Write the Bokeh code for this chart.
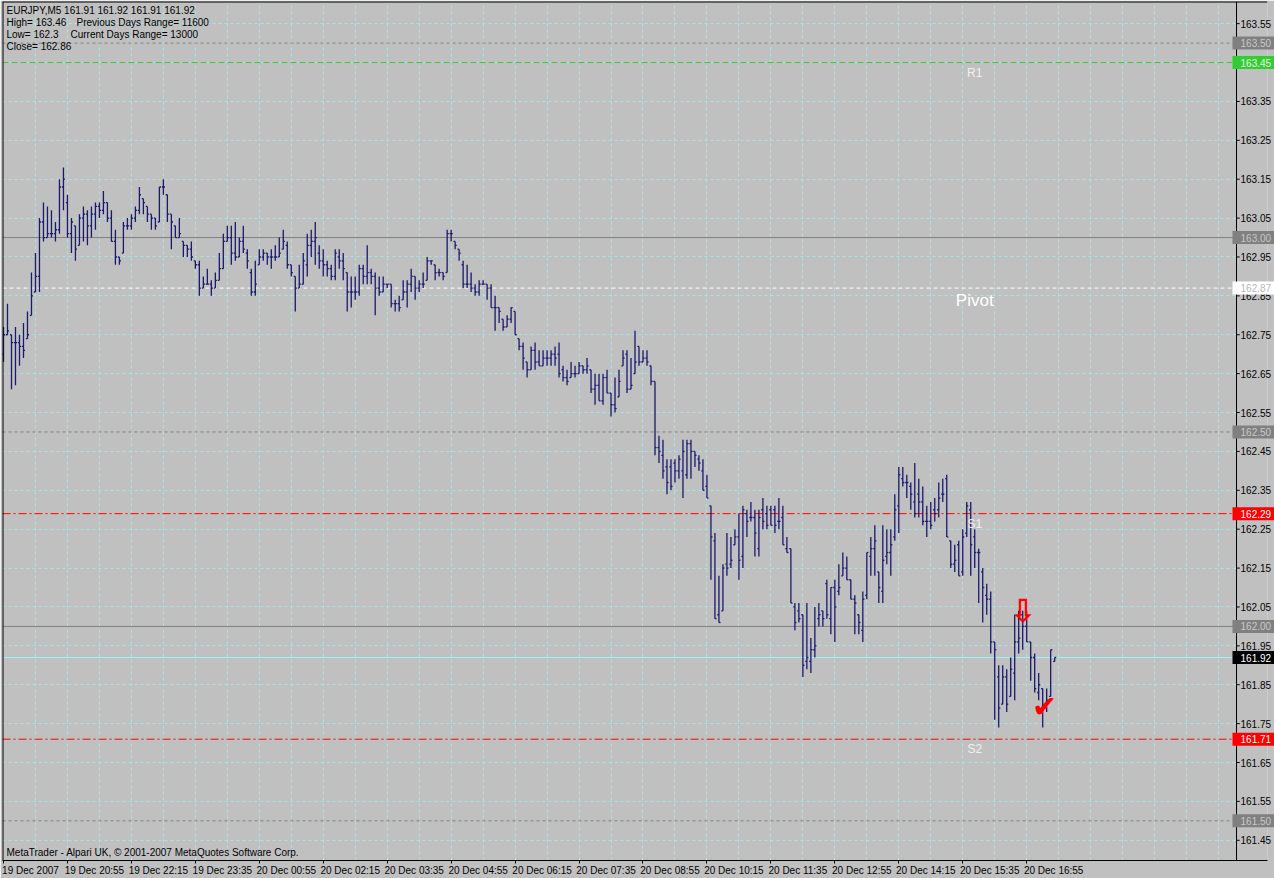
from bokeh.plotting import figure
from bokeh.models import (Range1d, FixedTicker, PrintfTickFormatter, Span, Label,
                          ColumnDataSource, BoxAnnotation)
from bokeh.core.properties import value
from bokeh.embed import file_html
from bokeh.resources import INLINE

# ---------------- data (EURJPY, M5) ----------------
opens = [
    162.70, 162.75, 162.75, 162.73, 162.73, 162.72, 162.74, 162.80, 162.86, 162.90,
    163.04, 163.00, 163.01, 163.01, 163.02, 163.13, 163.09, 163.01, 163.03, 162.98,
    163.05, 163.06, 163.03, 163.06, 163.08, 163.07, 163.09, 163.05, 162.99, 162.95,
    162.96, 163.03, 163.03, 163.05, 163.07, 163.10, 163.08, 163.06, 163.05, 163.04,
    163.13, 163.11, 163.06, 163.03, 163.00, 162.99, 162.98, 162.97, 162.94, 162.93,
    162.87, 162.88, 162.88, 162.87, 162.89, 162.92, 162.99, 163.00, 162.96, 162.95,
    162.99, 162.96, 162.91, 162.86, 162.93, 162.95, 162.96, 162.95, 162.95, 162.95,
    162.97, 162.98, 162.93, 162.90, 162.87, 162.88, 162.93, 162.98, 162.99, 162.96,
    162.94, 162.93, 162.92, 162.90, 162.95, 162.94, 162.91, 162.86, 162.86, 162.86,
    162.92, 162.90, 162.91, 162.90, 162.87, 162.86, 162.88, 162.88, 162.83, 162.83,
    162.84, 162.86, 162.88, 162.90, 162.87, 162.88, 162.89, 162.94, 162.93, 162.91,
    162.91, 162.91, 163.01, 162.99, 162.97, 162.93, 162.88, 162.88, 162.87, 162.86,
    162.88, 162.88, 162.87, 162.82, 162.82, 162.79, 162.77, 162.79, 162.81, 162.74,
    162.72, 162.68, 162.66, 162.71, 162.68, 162.67, 162.69, 162.69, 162.70, 162.70,
    162.66, 162.64, 162.64, 162.65, 162.65, 162.67, 162.66, 162.66, 162.61, 162.62,
    162.58, 162.64, 162.60, 162.57, 162.59, 162.67, 162.70, 162.61, 162.65, 162.72,
    162.68, 162.69, 162.67, 162.63, 162.46, 162.44, 162.41, 162.41, 162.42, 162.40,
    162.40, 162.39, 162.47, 162.45, 162.43, 162.40, 162.36, 162.31, 162.22, 162.03,
    162.04, 162.16, 162.16, 162.21, 162.23, 162.18, 162.29, 162.28, 162.28, 162.20,
    162.30, 162.29, 162.30, 162.30, 162.27, 162.28, 162.20, 162.20, 162.05, 162.04,
    162.03, 161.91, 161.91, 161.94, 162.02, 162.04, 162.11, 162.02, 162.10, 162.09,
    162.13, 162.15, 162.12, 162.07, 162.03, 161.99, 162.08, 162.18, 162.20, 162.14,
    162.09, 162.18, 162.19, 162.23, 162.31, 162.38, 162.37, 162.36, 162.32, 162.34,
    162.32, 162.27, 162.27, 162.30, 162.30, 162.34, 162.38, 162.22, 162.16, 162.21,
    162.14, 162.24, 162.30, 162.23, 162.19, 162.14, 162.08, 162.07, 161.96, 161.87,
    161.80, 161.87, 161.82, 161.88, 161.96, 162.03, 162.00, 161.96, 161.92, 161.83,
    161.84, 161.79, 161.82, 161.91,
]
highs = [
    162.77, 162.83, 162.75, 162.77, 162.75, 162.78, 162.81, 162.91, 162.96, 163.05,
    163.09, 163.08, 163.07, 163.04, 163.15, 163.18, 163.11, 163.05, 163.03, 163.06,
    163.08, 163.07, 163.08, 163.09, 163.09, 163.12, 163.09, 163.07, 163.02, 162.95,
    163.04, 163.05, 163.06, 163.08, 163.13, 163.10, 163.08, 163.06, 163.05, 163.13,
    163.15, 163.11, 163.06, 163.03, 163.05, 162.99, 162.98, 162.99, 162.94, 162.94,
    162.90, 162.92, 162.89, 162.91, 162.96, 163.01, 163.03, 163.03, 163.04, 163.00,
    163.03, 162.97, 162.92, 162.94, 162.97, 162.97, 162.96, 162.97, 162.98, 163.00,
    163.02, 162.99, 162.93, 162.90, 162.93, 162.96, 163.01, 163.02, 163.04, 162.98,
    162.97, 162.94, 162.93, 162.97, 162.97, 162.96, 162.91, 162.90, 162.90, 162.93,
    162.93, 162.98, 162.92, 162.91, 162.90, 162.90, 162.88, 162.88, 162.84, 162.85,
    162.89, 162.89, 162.92, 162.90, 162.89, 162.91, 162.95, 162.94, 162.93, 162.92,
    162.91, 163.02, 163.02, 162.99, 162.97, 162.94, 162.93, 162.91, 162.88, 162.89,
    162.89, 162.88, 162.88, 162.85, 162.82, 162.79, 162.80, 162.82, 162.81, 162.74,
    162.73, 162.68, 162.72, 162.73, 162.71, 162.71, 162.71, 162.71, 162.72, 162.73,
    162.67, 162.66, 162.68, 162.67, 162.68, 162.67, 162.69, 162.66, 162.65, 162.65,
    162.65, 162.66, 162.60, 162.64, 162.66, 162.71, 162.71, 162.69, 162.76, 162.72,
    162.71, 162.71, 162.67, 162.63, 162.49, 162.48, 162.43, 162.43, 162.43, 162.44,
    162.48, 162.48, 162.48, 162.45, 162.44, 162.43, 162.39, 162.31, 162.24, 162.13,
    162.16, 162.24, 162.23, 162.25, 162.29, 162.31, 162.30, 162.32, 162.30, 162.30,
    162.33, 162.31, 162.31, 162.31, 162.33, 162.31, 162.23, 162.20, 162.06, 162.06,
    162.03, 162.06, 161.97, 162.05, 162.06, 162.04, 162.12, 162.10, 162.12, 162.16,
    162.19, 162.18, 162.12, 162.08, 162.03, 162.09, 162.19, 162.23, 162.26, 162.14,
    162.26, 162.25, 162.25, 162.34, 162.41, 162.41, 162.39, 162.37, 162.42, 162.38,
    162.36, 162.31, 162.32, 162.33, 162.37, 162.38, 162.39, 162.22, 162.21, 162.22,
    162.25, 162.32, 162.32, 162.25, 162.20, 162.15, 162.11, 162.09, 161.96, 161.90,
    161.90, 161.89, 161.92, 162.03, 162.04, 162.04, 162.04, 161.96, 161.93, 161.88,
    161.84, 161.84, 161.94, 161.92,
]
lows = [
    162.68, 162.75, 162.61, 162.62, 162.67, 162.69, 162.74, 162.80, 162.86, 162.86,
    162.99, 163.00, 163.00, 162.99, 163.01, 163.07, 163.00, 162.96, 162.94, 162.98,
    162.99, 162.98, 163.00, 163.02, 163.05, 163.06, 163.04, 162.99, 162.93, 162.93,
    162.96, 163.02, 163.02, 163.04, 163.06, 163.06, 163.04, 163.02, 163.02, 163.04,
    163.11, 163.04, 162.97, 163.00, 163.00, 162.95, 162.95, 162.94, 162.92, 162.85,
    162.87, 162.88, 162.85, 162.87, 162.89, 162.92, 162.99, 162.93, 162.94, 162.95,
    162.96, 162.92, 162.85, 162.85, 162.93, 162.94, 162.93, 162.92, 162.94, 162.95,
    162.97, 162.92, 162.90, 162.81, 162.87, 162.88, 162.90, 162.95, 162.93, 162.92,
    162.90, 162.90, 162.89, 162.89, 162.92, 162.89, 162.81, 162.82, 162.84, 162.85,
    162.88, 162.88, 162.88, 162.80, 162.85, 162.86, 162.87, 162.82, 162.81, 162.81,
    162.84, 162.82, 162.86, 162.84, 162.86, 162.87, 162.89, 162.93, 162.89, 162.90,
    162.89, 162.91, 162.99, 162.97, 162.94, 162.87, 162.87, 162.86, 162.85, 162.85,
    162.88, 162.84, 162.82, 162.76, 162.78, 162.76, 162.77, 162.78, 162.75, 162.71,
    162.66, 162.64, 162.66, 162.66, 162.67, 162.67, 162.67, 162.67, 162.67, 162.64,
    162.63, 162.62, 162.64, 162.64, 162.65, 162.65, 162.65, 162.60, 162.57, 162.58,
    162.57, 162.60, 162.54, 162.55, 162.59, 162.67, 162.60, 162.61, 162.65, 162.67,
    162.68, 162.67, 162.62, 162.44, 162.42, 162.38, 162.34, 162.35, 162.37, 162.38,
    162.33, 162.38, 162.38, 162.41, 162.40, 162.35, 162.33, 162.12, 162.02, 162.01,
    162.04, 162.13, 162.15, 162.21, 162.12, 162.15, 162.23, 162.27, 162.18, 162.18,
    162.25, 162.25, 162.26, 162.24, 162.25, 162.21, 162.19, 162.06, 161.99, 162.01,
    161.87, 161.89, 161.88, 161.92, 162.00, 162.00, 162.02, 161.98, 161.96, 162.08,
    162.13, 162.12, 162.07, 161.98, 161.98, 161.96, 162.07, 162.13, 162.13, 162.06,
    162.06, 162.16, 162.13, 162.22, 162.24, 162.36, 162.33, 162.30, 162.28, 162.28,
    162.26, 162.23, 162.25, 162.27, 162.28, 162.32, 162.23, 162.15, 162.14, 162.13,
    162.13, 162.23, 162.13, 162.15, 162.06, 162.01, 162.03, 161.93, 161.76, 161.74,
    161.80, 161.78, 161.82, 161.81, 161.93, 161.94, 161.96, 161.86, 161.83, 161.81,
    161.74, 161.78, 161.82, 161.91,
]
closes = [
    162.75, 162.76, 162.73, 162.73, 162.72, 162.71, 162.75, 162.85, 162.90, 163.04,
    163.00, 163.01, 163.01, 163.02, 163.13, 163.15, 163.01, 163.04, 162.97, 163.05,
    163.06, 163.03, 163.06, 163.08, 163.07, 163.09, 163.05, 162.99, 162.95, 162.94,
    163.03, 163.03, 163.05, 163.07, 163.11, 163.09, 163.06, 163.05, 163.03, 163.13,
    163.13, 163.06, 163.04, 163.00, 163.01, 162.98, 162.97, 162.95, 162.93, 162.87,
    162.88, 162.88, 162.87, 162.89, 162.92, 162.99, 163.00, 162.96, 162.95, 162.99,
    162.97, 162.94, 162.86, 162.88, 162.95, 162.96, 162.95, 162.95, 162.95, 162.96,
    162.99, 162.93, 162.91, 162.87, 162.88, 162.94, 162.98, 162.99, 163.00, 162.94,
    162.93, 162.92, 162.90, 162.96, 162.94, 162.92, 162.86, 162.86, 162.86, 162.92,
    162.90, 162.91, 162.90, 162.87, 162.86, 162.88, 162.88, 162.83, 162.83, 162.82,
    162.86, 162.88, 162.90, 162.87, 162.88, 162.88, 162.94, 162.94, 162.91, 162.91,
    162.90, 163.01, 163.01, 162.98, 162.96, 162.88, 162.88, 162.87, 162.86, 162.88,
    162.88, 162.87, 162.82, 162.82, 162.81, 162.77, 162.79, 162.82, 162.75, 162.72,
    162.69, 162.66, 162.71, 162.68, 162.67, 162.69, 162.69, 162.70, 162.69, 162.65,
    162.64, 162.63, 162.65, 162.65, 162.67, 162.66, 162.67, 162.61, 162.62, 162.58,
    162.64, 162.60, 162.57, 162.56, 162.63, 162.69, 162.61, 162.62, 162.68, 162.68,
    162.69, 162.68, 162.63, 162.46, 162.45, 162.40, 162.37, 162.36, 162.40, 162.43,
    162.45, 162.47, 162.45, 162.44, 162.42, 162.35, 162.33, 162.23, 162.02, 162.01,
    162.15, 162.15, 162.17, 162.23, 162.17, 162.30, 162.27, 162.28, 162.24, 162.28,
    162.27, 162.26, 162.26, 162.26, 162.27, 162.21, 162.19, 162.06, 162.01, 162.02,
    161.90, 161.92, 161.94, 161.95, 162.03, 162.02, 162.03, 162.10, 162.05, 162.10,
    162.15, 162.12, 162.07, 162.06, 162.01, 162.07, 162.19, 162.20, 162.22, 162.10,
    162.17, 162.19, 162.21, 162.30, 162.39, 162.37, 162.37, 162.34, 162.29, 162.32,
    162.27, 162.27, 162.26, 162.29, 162.33, 162.34, 162.23, 162.16, 162.17, 162.13,
    162.23, 162.31, 162.21, 162.19, 162.19, 162.10, 162.07, 161.96, 161.94, 161.79,
    161.87, 161.80, 161.89, 161.96, 161.97, 162.00, 161.96, 161.92, 161.84, 161.85,
    161.79, 161.81, 161.94, 161.92,
]
assert len(opens) == len(highs) == len(lows) == len(closes)

time_tick_bars = [0, 16, 32, 48, 64, 80, 96, 112, 128, 144, 160, 176, 192, 208, 224, 240, 256]
time_tick_labels = ["19 Dec 2007", "19 Dec 20:55", "19 Dec 22:15", "19 Dec 23:35",
                    "20 Dec 00:55", "20 Dec 02:15", "20 Dec 03:35", "20 Dec 04:55",
                    "20 Dec 06:15", "20 Dec 07:35", "20 Dec 08:55", "20 Dec 10:15",
                    "20 Dec 11:35", "20 Dec 12:55", "20 Dec 14:15", "20 Dec 15:35",
                    "20 Dec 16:55"]
price_ticks = [161.45, 161.55, 161.65, 161.75, 161.85, 161.95, 162.05, 162.15, 162.25,
               162.35, 162.45, 162.55, 162.65, 162.75, 162.85, 162.95, 163.05, 163.15,
               163.25, 163.35, 163.45, 163.55]

level_prices = [163.50, 163.45, 163.00, 162.87, 162.50, 162.29, 162.00, 161.92, 161.71, 161.50]
level_tags = ["163.50", "163.45", "163.00", "162.87", "162.50", "162.29", "162.00",
              "161.92", "161.71", "161.50"]

pivot_names = ["R1", "Pivot", "S1", "S2"]
pivot_prices = [163.45, 162.87, 162.29, 161.71]
pivot_bar = 243

down_signal_bars = [255]
check_signal_bars = [260]

header_left = ["EURJPY,M5  161.91 161.92 161.91 161.92", "High= 163.46", "Low= 162.3", "Close= 162.86"]
header_right = ["", "Previous Days Range= 11600", "Current Days Range= 13000", ""]
footer_text = "MetaTrader - Alpari UK, \u00a9 2001-2007 MetaQuotes Software Corp."

# ---------------- styles ----------------
BG = "#C0C0C0"
BAR = "#191970"
GRID = "#A6E6E6"
FONT = "Liberation Sans"
GRAY_DASH = dict(line="#808080", dash="3 3", box="#808080", text="#C8C8C8")
GRAY_SOLID = dict(line="#808080", dash="solid", box="#808080", text="#C8C8C8")
RED_DD = dict(line="#FF0000", dash="8 3 2 3", box="#FF0000", text="#FFFFFF")
level_styles = [
    GRAY_DASH,
    dict(line="#32CD32", dash="6 3", box="#32CD32", text="#E8FFE8"),
    GRAY_SOLID,
    dict(line="#FFFFFF", dash="4 3", box="#FFFFFF", text="#B8B8B8"),
    GRAY_DASH,
    RED_DD,
    GRAY_SOLID,
    dict(line="#A8F0F0", dash="solid", box="#000000", text="#FFFFFF"),
    RED_DD,
    GRAY_DASH,
]

n = len(opens)
idx = list(range(n))
X_START, CHART_END, X_END = -0.25, 308.5, 316.25   # chart area, then the price-scale column
Y_START, Y_END = 161.398, 163.607
LABEL_SHIFT = 6.75   # time labels start at their tick, MetaTrader style

p = figure(width=1274, height=878, x_range=Range1d(X_START, X_END),
           y_range=Range1d(Y_START, Y_END), y_axis_location="right",
           output_backend="svg", toolbar_location=None,
           background_fill_color=BG, border_fill_color=BG,
           min_border_left=2, min_border_top=1, min_border_right=0, min_border_bottom=0)
p.outline_line_color = None

# grids
p.xgrid.ticker = FixedTicker(ticks=list(range(8, 309, 8)))
p.ygrid.ticker = FixedTicker(ticks=price_ticks)
for g in (p.xgrid, p.ygrid):
    g.grid_line_color = GRID
    g.grid_line_dash = "3 3"
    g.grid_line_width = 1

# bottom axis: tick marks (minor) at the bars, labels starting at them
shifted = [b + LABEL_SHIFT for b in time_tick_bars]
xa = p.xaxis[0]
xa.ticker = FixedTicker(ticks=shifted, minor_ticks=time_tick_bars)
xa.major_label_overrides = {s: t for s, t in zip(shifted, time_tick_labels)}
xa.axis_line_color = "black"
xa.major_tick_line_color = None
xa.major_tick_out = 3
xa.major_tick_in = 0
xa.minor_tick_line_color = "black"
xa.minor_tick_out = 3
xa.minor_tick_in = 0
xa.major_label_standoff = 1
xa.major_label_text_font = FONT
xa.major_label_text_font_size = "10px"
xa.major_label_text_color = "black"

# price axis: labels drawn back into the price-scale column
ya = p.yaxis[0]
ya.ticker = FixedTicker(ticks=price_ticks)
ya.formatter = PrintfTickFormatter(format="%.2f")
ya.axis_line_color = None
ya.major_tick_line_color = None
ya.minor_tick_line_color = None
ya.major_tick_out = 0
ya.major_tick_in = 0
ya.major_label_standoff = -27
ya.major_label_text_font = FONT
ya.major_label_text_font_size = "10px"
ya.major_label_text_color = "black"

# level lines
for price, st in zip(level_prices, level_styles):
    p.add_layout(Span(location=price, dimension="width", line_color=st["line"],
                      line_dash=st["dash"], line_width=1, level="underlay"))

# price-scale column background (hides grid and level lines there)
p.add_layout(BoxAnnotation(left=CHART_END, fill_color=BG, fill_alpha=1.0,
                           line_color=None, level="underlay"))

# chart borders
p.add_layout(Span(location=CHART_END, dimension="height", line_color="black", line_width=1))
p.add_layout(Span(location=X_START, dimension="height", line_color="black", line_width=2))
p.add_layout(Span(location=Y_END, dimension="width", line_color="black", line_width=2))

# price tick marks at the chart border
p.segment(x0=[CHART_END] * len(price_ticks), y0=price_ticks,
          x1=[CHART_END + 0.8] * len(price_ticks), y1=price_ticks,
          line_color="black", line_width=1)

# OHLC bars
src = ColumnDataSource(dict(
    x=idx, o=opens, h=highs, l=lows, c=closes,
    xl=[i - 0.4 for i in idx], xr=[i + 0.4 for i in idx]))
p.segment(x0="x", y0="l", x1="x", y1="h", source=src, line_color=BAR, line_width=1.3)
p.segment(x0="xl", y0="o", x1="x", y1="o", source=src, line_color=BAR, line_width=1.3)
p.segment(x0="x", y0="c", x1="xr", y1="c", source=src, line_color=BAR, line_width=1.3)

# pivot names
for name, price in zip(pivot_names, pivot_prices):
    big = name == "Pivot"
    p.add_layout(Label(x=pivot_bar, y=price, text=name, text_align="center",
                       text_baseline="top", y_offset=-3,
                       text_color="white" if big else "#F0F0F0",
                       text_font=FONT, text_font_size="17px" if big else "12px"))

# signal markers
p.text(x=down_signal_bars, y=[highs[i] for i in down_signal_bars], text=["\u21e9"],
       text_color="#FF0000", text_font=value("DejaVu Sans"), text_font_size="32px",
       text_font_style="bold", text_align="center", text_baseline="middle")
p.text(x=[b + 0.5 for b in check_signal_bars], y=[lows[i] for i in check_signal_bars],
       text=["\u2714"], text_color="#FF0000", text_font=value("DejaVu Sans"),
       text_font_size="30px", text_align="center", text_baseline="bottom", y_offset=-4)

# price tags on the scale
tag_src = ColumnDataSource(dict(
    right=[X_END] * len(level_prices), xt=[CHART_END] * len(level_prices),
    y=level_prices, tag=level_tags,
    box=[s["box"] for s in level_styles], tc=[s["text"] for s in level_styles]))
p.rect(x="right", y="y", width=70, height=13, width_units="screen", height_units="screen",
       fill_color="box", line_color=None, source=tag_src, level="overlay")
p.text(x="xt", y="y", text="tag", x_offset=4, text_align="left", text_baseline="middle",
       text_color="tc", text_font=value(FONT), text_font_size="10px",
       source=tag_src, level="overlay")

# header and footer texts
for k, (lt, rt) in enumerate(zip(header_left, header_right)):
    p.add_layout(Label(x=X_START, y=Y_END, x_offset=4, y_offset=-(3 + 12 * k), text=lt,
                       text_baseline="top", text_color="black", text_font=FONT,
                       text_font_size="10px"))
    if rt:
        p.add_layout(Label(x=X_START, y=Y_END, x_offset=74 if k == 1 else 68,
                           y_offset=-(3 + 12 * k), text=rt, text_baseline="top",
                           text_color="black", text_font=FONT, text_font_size="10px"))
p.add_layout(Label(x=X_START, y=Y_START, x_offset=4, y_offset=3, text=footer_text,
                   text_baseline="bottom", text_color="black", text_font=FONT,
                   text_font_size="10px"))

open("out.html", "w").write(file_html(p, INLINE))
